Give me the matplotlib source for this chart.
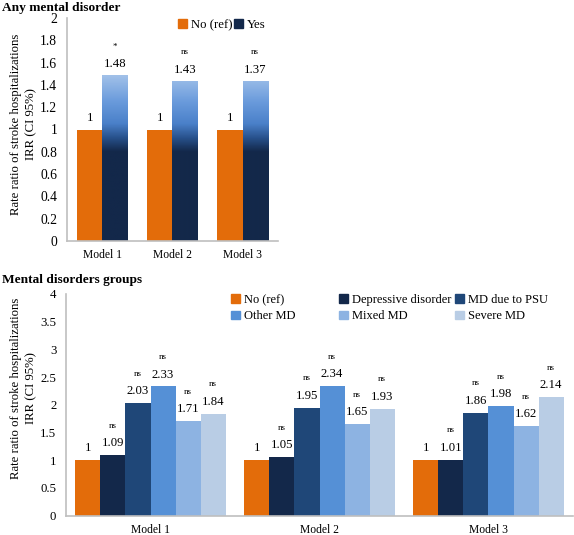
import numpy as np
import matplotlib
matplotlib.use('Agg')
import matplotlib.pyplot as plt
from matplotlib.colors import LinearSegmentedColormap
from matplotlib.patches import Patch

plt.rcParams['font.family'] = ['Liberation Serif', 'DejaVu Serif']

# ---------------- data ----------------
models = ['Model 1', 'Model 2', 'Model 3']

# top panel: any mental disorder
top_series = ['No (ref)', 'Yes']
top_no = [1, 1, 1]
top_yes = [1.48, 1.43, 1.43]          # bar heights as drawn
top_no_labels = ['1', '1', '1']
top_yes_labels = ['1.48', '1.43', '1.37']
top_yes_sig = ['*', 'ns', 'ns']
top_yticks = [0, 0.2, 0.4, 0.6, 0.8, 1, 1.2, 1.4, 1.6, 1.8, 2]

# bottom panel: mental disorder groups
bottom_series = ['No (ref)', 'Depressive disorder', 'MD due to PSU',
                 'Other MD', 'Mixed MD', 'Severe MD']
no_ref = [1, 1, 1]
depressive = [1.09, 1.05, 1.01]
md_psu = [2.03, 1.95, 1.86]
other_md = [2.33, 2.34, 1.98]
mixed_md = [1.71, 1.65, 1.62]
severe_md = [1.84, 1.93, 2.14]
bottom_sig = ['', 'ns', 'ns', 'ns', 'ns', 'ns']
bottom_yticks = [0, 0.5, 1, 1.5, 2, 2.5, 3, 3.5, 4]

# ---------------- style ----------------
ORANGE = '#e36c0a'
NAVY = '#13284a'
bottom_colors = [ORANGE, '#13284a', '#1f4778', '#5590d6', '#8db3e2', '#b9cde5']
SPINE = '#bfbfbf'
FS = 9.2
XFS = 8.4
LFS = 9.0
SIGFS = 6.5

W, H = 574, 535
fig = plt.figure(figsize=(W / 100, H / 100), dpi=100)


def fx(px):
    return px / W


def fy(py):
    return (H - py) / H


def style_axes(ax, yfs):
    for s in ['top', 'right']:
        ax.spines[s].set_visible(False)
    for s in ['left', 'bottom']:
        ax.spines[s].set_color(SPINE)
        ax.spines[s].set_linewidth(1.2)
    ax.tick_params(length=0)
    ax.tick_params(axis='y', pad=7, labelsize=yfs)
    ax.tick_params(axis='x', pad=6, labelsize=XFS)


def fmt(v):
    return f'{v:g}'


# ================= top panel =================
ax1 = fig.add_axes([fx(67), fy(241), fx(278) - fx(67), fy(18) - fy(241)])
style_axes(ax1, 9.8)
x = np.arange(len(models))
w1 = 0.364
b_no = ax1.bar(x - w1 / 2, top_no, w1, color=ORANGE, zorder=2)
b_yes = ax1.bar(x + w1 / 2, top_yes, w1, color='none', zorder=2)

grad = LinearSegmentedColormap.from_list('grad', [
    (0.0, '#13284a'), (0.80 / 1.5, '#13284a'), (0.92 / 1.5, '#27508a'),
    (1.05 / 1.5, '#4a80c9'), (1.25 / 1.5, '#6a9bdc'), (1.0, '#a6c4ea')])
for r in b_yes:
    x0, wd, h = r.get_x(), r.get_width(), r.get_height()
    ys = np.linspace(0, h, 400)[:, None]
    ax1.imshow(ys / 1.5, cmap=grad, vmin=0, vmax=1, origin='lower',
               extent=[x0, x0 + wd, 0, h], aspect='auto', zorder=2,
               interpolation='bilinear')

for r, lab in zip(b_no, top_no_labels):
    ax1.annotate(lab, (r.get_x() + r.get_width() / 2, r.get_height()),
                 xytext=(0, 8.6), textcoords='offset points',
                 ha='center', va='center', fontsize=FS)
for r, lab, sig in zip(b_yes, top_yes_labels, top_yes_sig):
    cx = r.get_x() + r.get_width() / 2
    ax1.annotate(lab, (cx, r.get_height()), xytext=(0, 8.6),
                 textcoords='offset points', ha='center', va='center',
                 fontsize=FS)
    ax1.annotate(sig, (cx, r.get_height()), xytext=(0, 21),
                 textcoords='offset points', ha='center', va='center',
                 fontsize=SIGFS)

ax1.set_xlim(-0.507, 2.507)
ax1.set_ylim(0, 2)
ax1.set_yticks(top_yticks)
ax1.set_yticklabels([fmt(v) for v in top_yticks])
ax1.set_xticks(x)
ax1.set_xticklabels(models)

leg_a = ax1.legend([Patch(color=ORANGE)], [top_series[0]],
                   loc='upper left', bbox_to_anchor=(fx(178), fy(19)),
                   bbox_transform=fig.transFigure, frameon=False,
                   fontsize=FS, handlelength=0.7, handleheight=0.7,
                   handletextpad=0.3, borderpad=0, borderaxespad=0)
ax1.add_artist(leg_a)
ax1.legend([Patch(color=NAVY)], [top_series[1]],
           loc='upper left', bbox_to_anchor=(fx(234), fy(19)),
           bbox_transform=fig.transFigure, frameon=False,
           fontsize=FS, handlelength=0.7, handleheight=0.7,
           handletextpad=0.3, borderpad=0, borderaxespad=0)

fig.text(fx(2), fy(8), 'Any mental disorder', fontsize=9.6, fontweight='bold',
         ha='left', va='center')
fig.text(fx(23.5), fy(124),
         'Rate ratio of stroke hospitalizations\nIRR (CI 95%)',
         rotation=90, ha='center', va='center', fontsize=FS,
         multialignment='center', linespacing=1.3)

# ================= bottom panel =================
ax2 = fig.add_axes([fx(66), fy(515.5), fx(573) - fx(66), fy(294) - fy(515.5)])
style_axes(ax2, FS)
series_vals = [no_ref, depressive, md_psu, other_md, mixed_md, severe_md]
w2 = 0.148
handles = []
for i, (name, vals, col, sig) in enumerate(zip(bottom_series, series_vals,
                                               bottom_colors, bottom_sig)):
    bars = ax2.bar(x + (i - 2.5) * w2, vals, w2, color=col, zorder=2)
    handles.append(Patch(color=col))
    for r, v in zip(bars, vals):
        cx = r.get_x() + r.get_width() / 2
        ax2.annotate(fmt(v), (cx, r.get_height()), xytext=(0, 8.6),
                     textcoords='offset points', ha='center', va='center',
                     fontsize=FS)
        if sig:
            ax2.annotate(sig, (cx, r.get_height()), xytext=(0, 21),
                         textcoords='offset points', ha='center',
                         va='center', fontsize=SIGFS)

ax2.set_xlim(-0.5, 2.5)
ax2.set_ylim(0, 4)
ax2.set_yticks(bottom_yticks)
ax2.set_yticklabels([fmt(v) for v in bottom_yticks])
ax2.set_xticks(x)
ax2.set_xticklabels(models)

col_x = [231, 339, 455]
for c in range(3):
    lg = ax2.legend([handles[c], handles[c + 3]],
                    [bottom_series[c], bottom_series[c + 3]],
                    loc='upper left', bbox_to_anchor=(fx(col_x[c]), fy(294)),
                    bbox_transform=fig.transFigure, frameon=False,
                    fontsize=LFS, handlelength=0.7, handleheight=0.7,
                    handletextpad=0.3, borderpad=0, borderaxespad=0,
                    labelspacing=0.35)
    if c < 2:
        ax2.add_artist(lg)

fig.text(fx(2), fy(280), 'Mental disorders groups', fontsize=9.6,
         fontweight='bold', ha='left', va='center')
fig.text(fx(23.5), fy(388),
         'Rate ratio of stroke hospitalizations\nIRR (CI 95%)',
         rotation=90, ha='center', va='center', fontsize=FS,
         multialignment='center', linespacing=1.3)

fig.savefig('out.png', dpi=100)
